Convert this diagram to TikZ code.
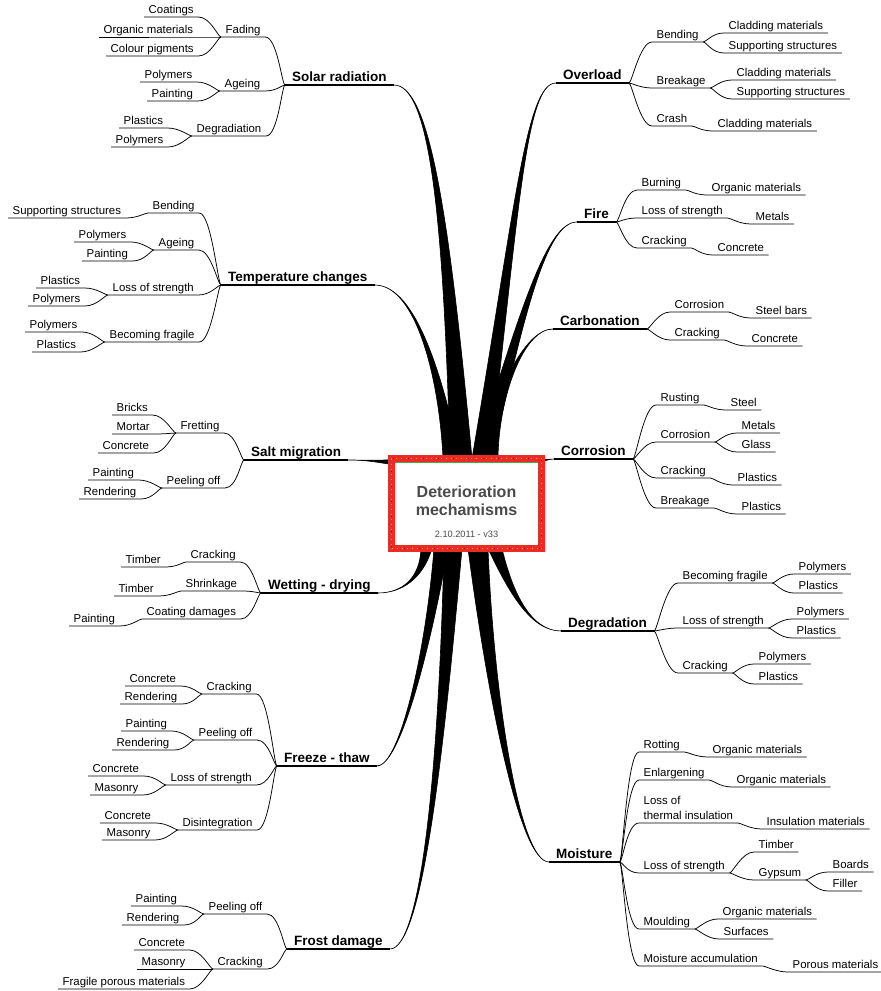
\documentclass[tikz,border=0pt]{standalone}
\usepackage{fontspec}
\setmainfont{Liberation Sans}
\usetikzlibrary{calc,backgrounds}

\definecolor{rootred}{RGB}{236,42,38}
\definecolor{titlegray}{RGB}{74,74,74}

\tikzset{
  sub/.style={anchor=south west, inner xsep=4.5pt, inner ysep=3pt, text depth=0pt,
    font=\fontsize{11.4}{15}\selectfont},
  topic/.style={anchor=south west, inner xsep=7pt, inner ysep=3pt, text depth=0pt,
    font=\bfseries\fontsize{13.5}{16}\selectfont},
  link/.style={line width=0.75pt},
  topicline/.style={line width=1.1pt},
  wedge/.style={fill=black, draw=black, line width=0.6pt, line join=round},
  rootbox/.style={draw=rootred, fill=white, line width=7pt, outer sep=0pt, inner sep=0pt,
    minimum width=150pt, minimum height=90pt,
    postaction={draw=orange!55!yellow, line width=1pt, dash pattern=on 1pt off 4pt},
    postaction={draw=blue!55!red, line width=1pt, dash pattern=on 1pt off 14pt, dash phase=2.5pt}},
  roottitle/.style={anchor=north, align=center, inner sep=0pt, text=titlegray,
    font=\bfseries\fontsize{16}{18}\selectfont},
  rootdate/.style={anchor=base, inner sep=0pt, text=titlegray, font=\fontsize{9.2}{11}\selectfont}
}

\begin{document}
\begin{tikzpicture}[x=1pt,y=-1pt]
\useasboundingbox (0,0) rectangle (881,991);

% centre
\node[rootbox] (root) at (466.5,503.5) {};
\draw[green!50!black!70, line width=0.6pt] ($(root.north west)+(3.5,3.8)$) -- ($(root.north east)+(-3.5,3.8)$);
\node[roottitle] (title) at (466.5,485.3) {Deterioration\\mechamisms};
\node[rootdate] (date) at (466.5,537) {2.10.2011 - v33};

% left: solar radiation
\node[topic] (solar) at (285,85) {Solar radiation};
\node[sub] (fading) at (221,37) {Fading};
\node[sub] (coatings) at (144,17) {Coatings};
\node[sub] (orgA) at (99,37) {Organic materials};
\node[sub] (colour) at (106,56) {Colour pigments};
\node[sub] (ageingA) at (220,91) {Ageing};
\node[sub] (polyA) at (140,82) {Polymers};
\node[sub] (paintA) at (147,101) {Painting};
\node[sub] (degradi) at (192,136) {Degradiation};
\node[sub] (plastA) at (119,128) {Plastics};
\node[sub] (polyB) at (111,147) {Polymers};

% left: temperature changes
\node[topic] (temp) at (221,285) {Temperature changes};
\node[sub] (bendA) at (148,213) {Bending};
\node[sub] (suppA) at (8,218) {Supporting structures};
\node[sub] (ageingB) at (154,250) {Ageing};
\node[sub] (polyC) at (74,242) {Polymers};
\node[sub] (paintB) at (82,261) {Painting};
\node[sub] (lossA) at (108,295) {Loss of strength};
\node[sub] (plastB) at (36,288) {Plastics};
\node[sub] (polyD) at (28,306) {Polymers};
\node[sub] (fragA) at (105,342) {Becoming fragile};
\node[sub] (polyE) at (25,332) {Polymers};
\node[sub] (plastC) at (32,352) {Plastics};

% left: salt migration
\node[topic] (salt) at (244,460) {Salt migration};
\node[sub] (frett) at (176,433) {Fretting};
\node[sub] (bricks) at (112,415) {Bricks};
\node[sub] (mortar) at (112,434) {Mortar};
\node[sub] (concA) at (98,453) {Concrete};
\node[sub] (peelA) at (162,488) {Peeling off};
\node[sub] (paintC) at (88,480) {Painting};
\node[sub] (rendA) at (79,499) {Rendering};

% left: wetting - drying
\node[topic] (wet) at (261,593) {Wetting - drying};
\node[sub] (crackA) at (186,562) {Cracking};
\node[sub] (timbA) at (121,567) {Timber};
\node[sub] (shrink) at (181,591) {Shrinkage};
\node[sub] (timbB) at (114,596) {Timber};
\node[sub] (coat) at (142,619) {Coating damages};
\node[sub] (paintD) at (69,626) {Painting};

% left: freeze - thaw
\node[topic] (freeze) at (277,766) {Freeze - thaw};
\node[sub] (crackB) at (202,694) {Cracking};
\node[sub] (concB) at (125,686) {Concrete};
\node[sub] (rendB) at (120,704) {Rendering};
\node[sub] (peelB) at (194,740) {Peeling off};
\node[sub] (paintE) at (121,731) {Painting};
\node[sub] (rendC) at (112,750) {Rendering};
\node[sub] (lossB) at (166,785) {Loss of strength};
\node[sub] (concC) at (88,776) {Concrete};
\node[sub] (masA) at (90,795) {Masonry};
\node[sub] (disint) at (178,830) {Disintegration};
\node[sub] (concD) at (100,823) {Concrete};
\node[sub] (masB) at (102,840) {Masonry};

% left: frost damage
\node[topic] (frost) at (287,949) {Frost damage};
\node[sub] (peelC) at (204,914) {Peeling off};
\node[sub] (paintF) at (131,906) {Painting};
\node[sub] (rendD) at (122,925) {Rendering};
\node[sub] (crackC) at (213,969) {Cracking};
\node[sub] (concE) at (134,950) {Concrete};
\node[sub] (masC) at (137,969) {Masonry};
\node[sub] (fragile) at (58,989) {Fragile porous materials};

% right: overload
\node[topic] (over) at (556,83) {Overload};
\node[sub] (bendB) at (652,42) {Bending};
\node[sub] (cladA) at (724,33) {Cladding materials};
\node[sub] (suppB) at (724,53) {Supporting structures};
\node[sub] (brk) at (652,88) {Breakage};
\node[sub] (cladB) at (732,80) {Cladding materials};
\node[sub] (suppC) at (732,99) {Supporting structures};
\node[sub] (crash) at (652,126) {Crash};
\node[sub] (cladC) at (713,131) {Cladding materials};

% right: fire
\node[topic] (fire) at (577,222) {Fire};
\node[sub] (burn) at (637,190) {Burning};
\node[sub] (orgB) at (707,195) {Organic materials};
\node[sub] (lossC) at (637,218) {Loss of strength};
\node[sub] (metA) at (751,224) {Metals};
\node[sub] (crackD) at (637,248) {Cracking};
\node[sub] (concF) at (713,255) {Concrete};

% right: carbonation
\node[topic] (carb) at (553,329) {Carbonation};
\node[sub] (corrA) at (670,312) {Corrosion};
\node[sub] (steelbars) at (751,318) {Steel bars};
\node[sub] (crackE) at (670,340) {Cracking};
\node[sub] (concG) at (747,346) {Concrete};

% right: corrosion
\node[topic] (corr) at (554,459) {Corrosion};
\node[sub] (rust) at (656,405) {Rusting};
\node[sub] (steel) at (726,410) {Steel};
\node[sub] (corrB) at (656,442) {Corrosion};
\node[sub] (metB) at (737,433) {Metals};
\node[sub] (glass) at (737,452) {Glass};
\node[sub] (crackF) at (656,478) {Cracking};
\node[sub] (plastD) at (733,485) {Plastics};
\node[sub] (breakB) at (656,508) {Breakage};
\node[sub] (plastE) at (737,514) {Plastics};

% right: degradation
\node[topic] (degr) at (561,631) {Degradation};
\node[sub] (fragB) at (678,583) {Becoming fragile};
\node[sub] (polyF) at (794,574) {Polymers};
\node[sub] (plastF) at (794,593) {Plastics};
\node[sub] (lossD) at (678,628) {Loss of strength};
\node[sub] (polyG) at (792,619) {Polymers};
\node[sub] (plastG) at (792,638) {Plastics};
\node[sub] (crackG) at (678,673) {Cracking};
\node[sub] (polyH) at (754,664) {Polymers};
\node[sub] (plastH) at (754,684) {Plastics};

% right: moisture
\node[topic] (moist) at (549,862) {Moisture};
\node[sub] (rot) at (639,752) {Rotting};
\node[sub] (orgC) at (708,757) {Organic materials};
\node[sub] (enl) at (639,780) {Enlargening};
\node[sub] (orgD) at (732,787) {Organic materials};
\node[sub, align=left] (therm) at (639,823) {Loss of\\thermal insulation};
\node[sub] (insul) at (762,829) {Insulation materials};
\node[sub] (lossE) at (639,873) {Loss of strength};
\node[sub] (timbC) at (754,852) {Timber};
\node[sub] (gyps) at (754,880) {Gypsum};
\node[sub] (boards) at (828,872) {Boards};
\node[sub] (filler) at (828,891) {Filler};
\node[sub] (mould) at (639,929) {Moulding};
\node[sub] (orgE) at (718,919) {Organic materials};
\node[sub] (surf) at (719,939) {Surfaces};
\node[sub] (macc) at (639,966) {Moisture accumulation};
\node[sub] (porous) at (788,972) {Porous materials};

% underlines of the main topics
\foreach \m in {solar,temp,salt,wet,freeze,frost,over,fire,carb,corr,degr,moist}
  \draw[topicline] (\m.south west) -- (\m.south east);

% left side links: child to parent
\foreach \c/\p in {fading/solar,coatings/fading,orgA/fading,colour/fading,ageingA/solar,
    polyA/ageingA,paintA/ageingA,degradi/solar,plastA/degradi,polyB/degradi,
    bendA/temp,suppA/bendA,ageingB/temp,polyC/ageingB,paintB/ageingB,lossA/temp,
    plastB/lossA,polyD/lossA,fragA/temp,polyE/fragA,plastC/fragA,
    frett/salt,bricks/frett,mortar/frett,concA/frett,peelA/salt,paintC/peelA,rendA/peelA,
    crackA/wet,timbA/crackA,shrink/wet,timbB/shrink,coat/wet,paintD/coat,
    crackB/freeze,concB/crackB,rendB/crackB,peelB/freeze,paintE/peelB,rendC/peelB,
    lossB/freeze,concC/lossB,masA/lossB,disint/freeze,concD/disint,masB/disint,
    peelC/frost,paintF/peelC,rendD/peelC,crackC/frost,concE/crackC,masC/crackC,fragile/crackC}
  \draw[link] (\c.south west) -- (\c.south east) .. controls +(12,0) and +(-3,0) .. (\p.south west);

% right side links: parent to child
\foreach \p/\c in {over/bendB,bendB/cladA,bendB/suppB,over/brk,brk/cladB,brk/suppC,over/crash,crash/cladC,
    fire/burn,burn/orgB,fire/lossC,lossC/metA,fire/crackD,crackD/concF,
    carb/corrA,corrA/steelbars,carb/crackE,crackE/concG,
    corr/rust,rust/steel,corr/corrB,corrB/metB,corrB/glass,corr/crackF,crackF/plastD,corr/breakB,breakB/plastE,
    degr/fragB,fragB/polyF,fragB/plastF,degr/lossD,lossD/polyG,lossD/plastG,degr/crackG,crackG/polyH,crackG/plastH,
    moist/rot,rot/orgC,moist/enl,enl/orgD,moist/therm,therm/insul,moist/lossE,lossE/timbC,lossE/gyps,
    gyps/boards,gyps/filler,moist/mould,mould/orgE,mould/surf,moist/macc,macc/porous}
  \draw[link] (\p.south east) .. controls +(3,0) and +(-12,0) .. (\c.south west) -- (\c.south east);

% thick branches from the centre
\begin{scope}[on background layer]
\fill[white] (0,0) rectangle (881,991);
\filldraw[wedge] (solar.south east) .. controls +(35,0) and +(-6.75,-250) .. ($(root.north)+(-16.5,0)$)
  -- ($(root.north)+(5.5,0)$) .. controls +(-23.25,-250) and +(35,0) .. (solar.south east) -- cycle;
\filldraw[wedge] (temp.south east) .. controls +(42,0) and +(-3.6,-78) .. ($(root.north)+(-23.5,0)$)
  -- ($(root.north)+(-6.5,0)$) .. controls +(-16.4,-78) and +(42,0) .. (temp.south east) -- cycle;
\filldraw[wedge] (over.south west) .. controls +(-30,0) and +(43,-250) .. ($(root.north)+(5.5,0)$)
  -- ($(root.north)+(23.5,0)$) .. controls +(29,-250) and +(-30,0) .. (over.south west) -- cycle;
\filldraw[wedge] (fire.south west) .. controls +(-30,0) and +(46.75,-150) .. ($(root.north)+(7.5,0)$)
  -- ($(root.north)+(25.5,0)$) .. controls +(33.25,-150) and +(-30,0) .. (fire.south west) -- cycle;
\filldraw[wedge] (carb.south west) .. controls +(-30,0) and +(15.5,-60) .. ($(root.north)+(11.5,0)$)
  -- ($(root.north)+(31.5,0)$) .. controls +(0.5,-60) and +(-30,0) .. (carb.south west) -- cycle;
\filldraw[wedge] (salt.south east) .. controls +(20,0) and +(-15,2) .. ($(root.west)+(4,-44.5)$)
  -- ($(root.west)+(4,-38.5)$) .. controls +(-15,-2) and +(20,0) .. (salt.south east) -- cycle;
\filldraw[wedge] (corr.south west) .. controls +(-6,0) and +(6,2) .. ($(root.east)+(-4,-45)$)
  -- ($(root.east)+(-4,-40)$) .. controls +(6,-2) and +(-6,0) .. (corr.south west) -- cycle;
\filldraw[wedge] (wet.south east) .. controls +(24,0) and +(-1,30) .. ($(root.south)+(-45.5,0)$)
  -- ($(root.south)+(-34.5,0)$) .. controls +(-9,30) and +(24,0) .. (wet.south east) -- cycle;
\filldraw[wedge] (freeze.south east) .. controls +(23,0) and +(-8,102) .. ($(root.south)+(-32.5,0)$)
  -- ($(root.south)+(-18.5,0)$) .. controls +(-18,102) and +(23,0) .. (freeze.south east) -- cycle;
\filldraw[wedge] (frost.south east) .. controls +(32,0) and +(-5,212) .. ($(root.south)+(-22.5,0)$)
  -- ($(root.south)+(-4.5,0)$) .. controls +(-19,212) and +(32,0) .. (frost.south east) -- cycle;
\filldraw[wedge] (moist.south west) .. controls +(-29,0) and +(20,152) .. ($(root.south)+(1.5,0)$)
  -- ($(root.south)+(21.5,0)$) .. controls +(6,152) and +(-29,0) .. (moist.south west) -- cycle;
\filldraw[wedge] (degr.south west) .. controls +(-31,0) and +(20,42) .. ($(root.south)+(21.5,0)$)
  -- ($(root.south)+(35.5,0)$) .. controls +(10,42) and +(-31,0) .. (degr.south west) -- cycle;
\end{scope}
\end{tikzpicture}
\end{document}
